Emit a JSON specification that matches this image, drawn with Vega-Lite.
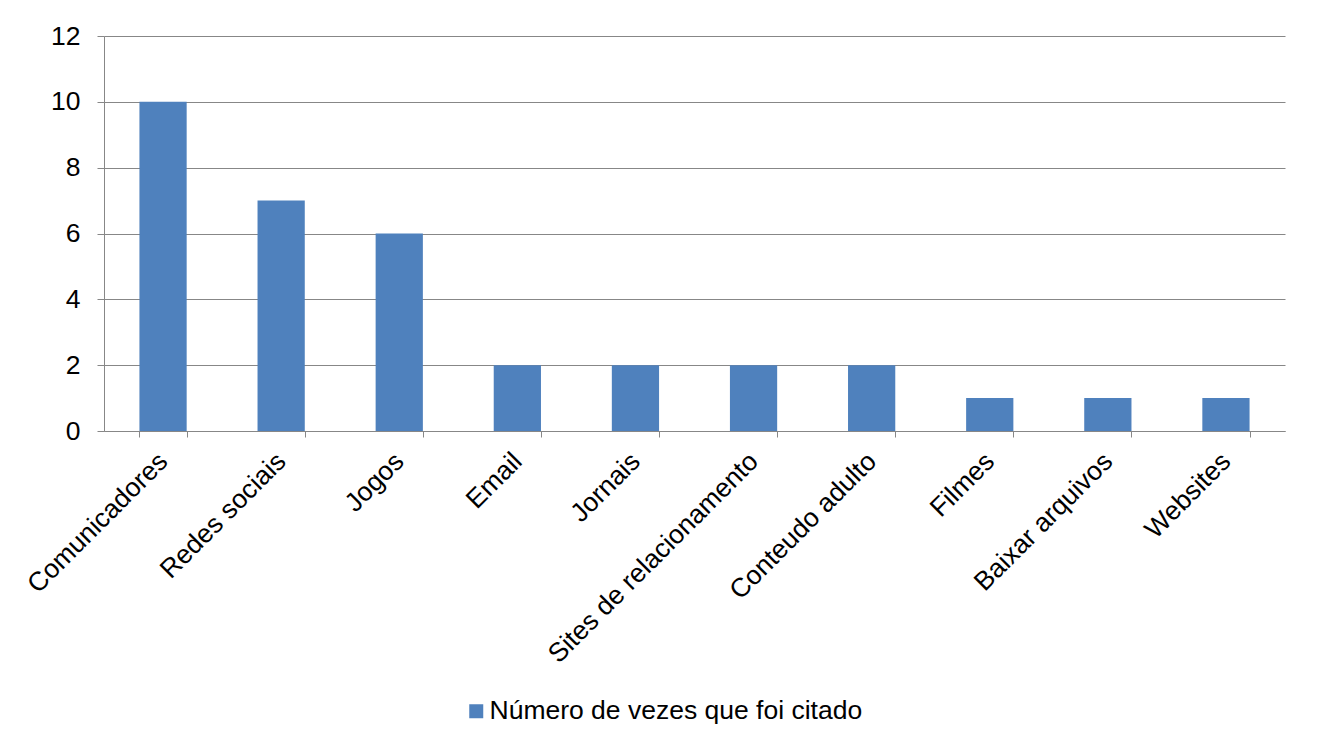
{
  "$schema": "https://vega.github.io/schema/vega-lite/v6.json",
  "width": 1181,
  "height": 395,
  "autosize": {"type": "none"},
  "padding": {"left": 104, "top": 36, "right": 33, "bottom": 314},
  "background": "white",
  "data": {
    "values": [
      {"categoria": "Comunicadores", "valor": 10, "serie": "Número de vezes que foi citado"},
      {"categoria": "Redes sociais", "valor": 7, "serie": "Número de vezes que foi citado"},
      {"categoria": "Jogos", "valor": 6, "serie": "Número de vezes que foi citado"},
      {"categoria": "Email", "valor": 2, "serie": "Número de vezes que foi citado"},
      {"categoria": "Jornais", "valor": 2, "serie": "Número de vezes que foi citado"},
      {"categoria": "Sites de relacionamento", "valor": 2, "serie": "Número de vezes que foi citado"},
      {"categoria": "Conteudo adulto", "valor": 2, "serie": "Número de vezes que foi citado"},
      {"categoria": "Filmes", "valor": 1, "serie": "Número de vezes que foi citado"},
      {"categoria": "Baixar arquivos", "valor": 1, "serie": "Número de vezes que foi citado"},
      {"categoria": "Websites", "valor": 1, "serie": "Número de vezes que foi citado"}
    ]
  },
  "mark": {"type": "bar"},
  "encoding": {
    "x": {
      "field": "categoria",
      "type": "nominal",
      "sort": null,
      "scale": {"paddingInner": 0.6, "paddingOuter": 0.3},
      "axis": {
        "title": null,
        "labelAngle": -45,
        "labelAlign": "right",
        "labelBaseline": "middle",
        "labelFont": "Liberation Sans",
        "labelFontSize": 26.5,
        "labelColor": "black",
        "labelPadding": 20,
        "labelLimit": 0,
        "tickBand": "extent",
        "tickSize": 6,
        "tickColor": "#878787",
        "domainColor": "#878787",
        "grid": false
      }
    },
    "y": {
      "field": "valor",
      "type": "quantitative",
      "scale": {"domain": [0, 12], "nice": false},
      "axis": {
        "title": null,
        "values": [0, 2, 4, 6, 8, 10, 12],
        "labelFont": "Liberation Sans",
        "labelFontSize": 26.5,
        "labelColor": "black",
        "labelPadding": 17,
        "tickSize": 7,
        "tickColor": "#878787",
        "domainColor": "#878787",
        "grid": true,
        "gridColor": "#878787",
        "gridWidth": 1
      }
    },
    "color": {
      "field": "serie",
      "type": "nominal",
      "scale": {"range": ["#4F81BD"]},
      "legend": {
        "title": null,
        "orient": "none",
        "legendX": 359,
        "legendY": 662,
        "symbolType": "square",
        "symbolSize": 196,
        "symbolStrokeWidth": 0,
        "symbolOpacity": 1,
        "labelFont": "Liberation Sans",
        "labelFontSize": 26.5,
        "labelColor": "black",
        "labelOffset": 0,
        "labelLimit": 0
      }
    }
  },
  "config": {
    "view": {"stroke": null},
    "axis": {"domainWidth": 1, "tickWidth": 1}
  }
}
